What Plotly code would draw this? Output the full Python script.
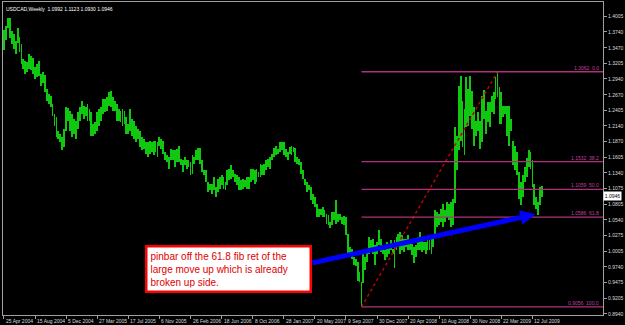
import plotly.graph_objects as go

# ---------------- data ----------------
symbol_title = "USDCAD,Weekly"
header_ohlc = [1.0992, 1.1123, 1.0930, 1.0946]

# weekly highs / lows, first bar = week of 25 Apr 2004
highs = [
    1.3770, 1.3843, 1.3974, 1.3984, 1.3758, 1.3702, 1.3588, 1.3804, 1.3656, 1.3532,
    1.3277, 1.3249, 1.3220, 1.3362, 1.3330, 1.3300, 1.3135, 1.3190, 1.3237, 1.3022,
    1.3050, 1.3011, 1.2768, 1.2683, 1.2655, 1.2514, 1.2344, 1.2286, 1.2060, 1.2004,
    1.1947, 1.2089, 1.2460, 1.2450, 1.2400, 1.2344, 1.2259, 1.2230, 1.2372, 1.2456,
    1.2570, 1.2485, 1.2457, 1.2514, 1.2429, 1.2372, 1.2174, 1.2202, 1.2372, 1.2429,
    1.2457, 1.2598, 1.2598, 1.2627, 1.2711, 1.2740, 1.2627, 1.2570, 1.2514, 1.2429,
    1.2400, 1.2429, 1.2400, 1.2287, 1.2174, 1.2429, 1.2259, 1.2230, 1.2145, 1.2089,
    1.2060, 1.1947, 1.1919, 1.1862, 1.1862, 1.1890, 1.1862, 1.1890, 1.1890, 1.1862,
    1.1958, 1.1919, 1.1890, 1.1693, 1.1636, 1.1608, 1.1749, 1.1732, 1.1721, 1.1749,
    1.1789, 1.1579, 1.1551, 1.1608, 1.1551, 1.1551, 1.1523, 1.1636, 1.1608, 1.1732,
    1.1766, 1.1766, 1.1551, 1.1393, 1.1381, 1.1183, 1.1155, 1.1155, 1.1268, 1.1098,
    1.1240, 1.1268, 1.1296, 1.1268, 1.1183, 1.1381, 1.1410, 1.1466, 1.1381, 1.1325,
    1.1296, 1.1268, 1.1211, 1.1240, 1.1211, 1.1268, 1.1268, 1.1410, 1.1410, 1.1381,
    1.1410, 1.1353, 1.1495, 1.1466, 1.1495, 1.1551, 1.1579, 1.1608, 1.1664, 1.1766,
    1.1789, 1.1749, 1.1862, 1.1862, 1.1862, 1.1749, 1.1693, 1.1778, 1.1806, 1.1778,
    1.1766, 1.1608, 1.1579, 1.1523, 1.1381, 1.1240, 1.1183, 1.1127, 1.1098, 1.0985,
    1.0928, 1.0815, 1.0730, 1.0730, 1.0759, 1.0702, 1.0645, 1.0617, 1.0506, 1.0674,
    1.0674, 1.0872, 1.0645, 1.0645, 1.0589, 1.0600, 1.0589, 1.0306, 1.0080, 1.0050,
    0.9910, 0.9880, 0.9830, 0.9654, 0.9480, 0.9966, 0.9910, 1.0023, 1.0249, 1.0193,
    1.0221, 1.0108, 1.0165, 1.0363, 1.0221, 1.0108, 1.0023, 1.0165, 1.0136, 1.0193,
    1.0051, 1.0193, 1.0249, 1.0306, 1.0334, 1.0278, 1.0221, 1.0221, 1.0278, 1.0193,
    1.0136, 1.0080, 1.0108, 1.0249, 1.0334, 1.0193, 1.0165, 1.0165, 1.0221, 1.0193,
    1.0221, 1.0249, 1.0702, 1.0674, 1.0645, 1.0730, 1.0815, 1.0702, 1.0844, 1.0815,
    1.0844, 1.0900, 1.2113, 1.1976, 1.2825, 1.2995, 1.2570, 1.2429, 1.2966, 1.2768,
    1.2995, 1.2740, 1.2457, 1.2230, 1.2372, 1.2230, 1.2655, 1.2751, 1.2400, 1.2542,
    1.2542, 1.2655, 1.2712, 1.2966, 1.3062, 1.2797, 1.2712, 1.2485, 1.2485, 1.2485,
    1.2485, 1.2259, 1.1891, 1.1806, 1.1700, 1.1352, 1.1183, 1.1296, 1.1438, 1.1600,
    1.1721, 1.1700, 1.1551, 1.1155, 1.0930, 1.0840, 1.1098, 1.1123,
]
lows = [
    1.3430, 1.3600, 1.3804, 1.3644, 1.3532, 1.3447, 1.3362, 1.3560, 1.3390, 1.3193,
    1.3107, 1.3022, 1.3050, 1.3107, 1.3100, 1.3030, 1.2938, 1.2966, 1.2994, 1.2824,
    1.2870, 1.2711, 1.2570, 1.2514, 1.2457, 1.2315, 1.2145, 1.1947, 1.1919, 1.1862,
    1.1721, 1.1777, 1.2060, 1.2230, 1.2060, 1.1947, 1.2004, 1.1919, 1.2089, 1.2230,
    1.2344, 1.2259, 1.2315, 1.2230, 1.2230, 1.1975, 1.1975, 1.2004, 1.2060, 1.2145,
    1.2230, 1.2344, 1.2372, 1.2400, 1.2485, 1.2457, 1.2400, 1.2400, 1.2230, 1.2230,
    1.2202, 1.2145, 1.2174, 1.2004, 1.2004, 1.2060, 1.1975, 1.1919, 1.1862, 1.1919,
    1.1777, 1.1721, 1.1749, 1.1665, 1.1608, 1.1665, 1.1693, 1.1650, 1.1693, 1.1608,
    1.1805, 1.1749, 1.1665, 1.1551, 1.1523, 1.1410, 1.1551, 1.1562, 1.1438, 1.1523,
    1.1523, 1.1466, 1.1353, 1.1466, 1.1410, 1.1438, 1.1296, 1.1325, 1.1495, 1.1551,
    1.1551, 1.1495, 1.1353, 1.1296, 1.1183, 1.1013, 1.1042, 1.0985, 1.1042, 1.0928,
    1.1013, 1.1070, 1.1127, 1.1070, 1.1042, 1.1127, 1.1211, 1.1240, 1.1268, 1.1183,
    1.1127, 1.1042, 1.1042, 1.1070, 1.1098, 1.1070, 1.1070, 1.1183, 1.1211, 1.1155,
    1.1183, 1.1268, 1.1268, 1.1296, 1.1296, 1.1381, 1.1438, 1.1410, 1.1551, 1.1608,
    1.1636, 1.1664, 1.1693, 1.1721, 1.1636, 1.1608, 1.1551, 1.1664, 1.1636, 1.1693,
    1.1523, 1.1495, 1.1466, 1.1325, 1.1240, 1.1127, 1.1013, 1.1042, 1.0872, 1.0815,
    1.0759, 1.0589, 1.0589, 1.0617, 1.0589, 1.0589, 1.0476, 1.0448, 1.0393, 1.0448,
    1.0532, 1.0476, 1.0506, 1.0532, 1.0476, 1.0450, 1.0278, 0.9966, 0.9910, 0.9880,
    0.9770, 0.9750, 0.9490, 0.9485, 0.9056, 0.9457, 0.9683, 0.9825, 0.9966, 1.0023,
    0.9966, 0.9768, 0.9966, 1.0108, 0.9995, 0.9966, 0.9853, 0.9910, 0.9966, 1.0023,
    0.9966, 0.9712, 1.0023, 1.0080, 0.9966, 1.0023, 0.9995, 1.0080, 1.0023, 1.0023,
    0.9938, 0.9797, 0.9910, 1.0023, 1.0023, 0.9995, 1.0023, 0.9966, 1.0023, 1.0023,
    0.9966, 1.0080, 1.0306, 1.0419, 1.0447, 1.0504, 1.0419, 1.0504, 1.0589, 1.0532,
    1.0419, 1.0450, 1.0821, 1.1381, 1.1721, 1.1891, 1.1778, 1.1636, 1.2117, 1.2145,
    1.2315, 1.2089, 1.1806, 1.1976, 1.2061, 1.1749, 1.1863, 1.2259, 1.2004, 1.2202,
    1.2117, 1.2372, 1.2344, 1.2598, 1.2627, 1.2174, 1.2174, 1.2287, 1.2344, 1.1976,
    1.1806, 1.2061, 1.1466, 1.1381, 1.1300, 1.0900, 1.0790, 1.0930, 1.1183, 1.1268,
    1.1438, 1.1400, 1.1098, 1.0790, 1.0730, 1.0620, 1.0790, 1.0930,
]

x_tick_weeks = [0, 16, 32, 48, 64, 80, 96, 112, 128, 144, 160, 176, 192, 208, 224, 240, 256, 272]
x_tick_labels = ["25 Apr 2004", "15 Aug 2004", "5 Dec 2004", "27 Mar 2005", "17 Jul 2005",
                 "6 Nov 2005", "26 Feb 2006", "18 Jun 2006", "8 Oct 2006", "28 Jan 2007",
                 "20 May 2007", "9 Sep 2007", "30 Dec 2007", "20 Apr 2008", "10 Aug 2008",
                 "30 Nov 2008", "22 Mar 2009", "12 Jul 2009"]
y_ticks = [1.4005, 1.3740, 1.3470, 1.3205, 1.2940, 1.2670, 1.2405, 1.2140, 1.1870, 1.1605,
           1.1340, 1.1075, 1.0805, 1.0540, 1.0275, 1.0005, 0.9740, 0.9475, 0.9205, 0.8940]

fib_ratios = [0.0, 38.2, 50.0, 61.8, 100.0]
fib_prices = [1.3062, 1.1532, 1.1059, 1.0586, 0.9056]
fib_low_week = 184
fib_high_week = 254

note_text = "pinbar off the 61.8 fib ret of the<br>large move up which is already<br>broken up side."
arrow_tail = (158, 0.9802)
arrow_tip = (273.5, 1.0634)

X_RANGE = [-0.5, 308.3]
Y_RANGE = [0.8919, 1.4250]

BAR_GREEN = "#10c810"
FIB_COL = "#b0307c"
TXT_COL = "#dcdcdc"
FONT = "Liberation Sans"

weeks = list(range(len(highs)))
spans = [h - l for h, l in zip(highs, lows)]

fig = go.Figure()
fig.add_trace(go.Bar(x=weeks, y=spans, base=lows, width=0.45,
                     marker=dict(color=BAR_GREEN, line=dict(width=0)),
                     hoverinfo="skip", showlegend=False))

# fib trend line (dotted red)
fig.add_trace(go.Scatter(x=[fib_low_week, fib_high_week], y=[fib_prices[-1], fib_prices[0]],
                         mode="lines", line=dict(color="#c00000", width=1.5, dash="dot"),
                         hoverinfo="skip", showlegend=False))

shapes = []
annotations = []
for r, p in zip(fib_ratios, fib_prices):
    shapes.append(dict(type="line", xref="x", yref="y", x0=fib_low_week, x1=X_RANGE[1],
                       y0=p, y1=p, line=dict(color=FIB_COL, width=1.3)))
    annotations.append(dict(xref="paper", yref="y", x=1, y=p, xanchor="right", yanchor="bottom",
                            xshift=-2, yshift=-1, text=f"{p:.4f}  {r:.1f}", showarrow=False,
                            font=dict(family=FONT, size=5, color="#c040a0")))

for w, lab in zip(x_tick_weeks, x_tick_labels):
    annotations.append(dict(xref="x", yref="paper", x=w, y=0, xanchor="left", yanchor="top",
                            xshift=0, yshift=-1, text=lab, showarrow=False,
                            font=dict(family=FONT, size=5, color=TXT_COL)))

# header
annotations.append(dict(xref="paper", yref="paper", x=0, y=1, xanchor="left", yanchor="top",
                        xshift=1, yshift=-2,
                        text=symbol_title + "  " + " ".join(f"{v:.4f}" for v in header_ohlc),
                        showarrow=False, font=dict(family=FONT, size=5, color="#ffffff")))
# current price box
annotations.append(dict(xref="paper", yref="y", x=1, y=header_ohlc[3], xanchor="left",
                        yanchor="middle", text=f"{header_ohlc[3]:.4f}", showarrow=False,
                        bgcolor="#ffffff", borderpad=1, width=15,
                        font=dict(family=FONT, size=5, color="#000000")))
# blue arrow
annotations.append(dict(xref="x", yref="y", x=arrow_tip[0], y=arrow_tip[1],
                        axref="x", ayref="y", ax=arrow_tail[0], ay=arrow_tail[1],
                        text="", showarrow=True, arrowhead=2, arrowsize=0.6, arrowwidth=5,
                        arrowcolor="#0000ff", standoff=0, startstandoff=0))
# note box
annotations.append(dict(xref="x", yref="y", x=115.5, y=0.9709, xanchor="center", yanchor="middle",
                        text=note_text, showarrow=False, align="left", width=156,
                        bgcolor="#ffffff", bordercolor="#ff0000", borderwidth=2.5, borderpad=3,
                        font=dict(family=FONT, size=10, color="#e00000")))

fig.update_layout(
    width=625, height=325,
    margin=dict(l=3, r=18, t=1, b=10),
    paper_bgcolor="#000000", plot_bgcolor="#000000",
    bargap=0, shapes=shapes, annotations=annotations,
    xaxis=dict(range=X_RANGE, showgrid=False, zeroline=False, tickmode="array",
               tickvals=x_tick_weeks, ticks="outside", ticklen=3, tickcolor="#a0a0a0",
               showticklabels=False, showline=True, linecolor="#a0a0a0", linewidth=1,
               mirror=True, fixedrange=True),
    yaxis=dict(range=Y_RANGE, side="right", showgrid=False, zeroline=False, tickmode="array",
               tickvals=y_ticks, ticktext=[f"{v:.4f}" for v in y_ticks], ticks="outside",
               ticklen=3, tickcolor="#a0a0a0", tickfont=dict(family=FONT, size=5, color=TXT_COL),
               showline=True, linecolor="#a0a0a0", linewidth=1, mirror=True, fixedrange=True),
    showlegend=False,
)

fig.write_html("out.html")
